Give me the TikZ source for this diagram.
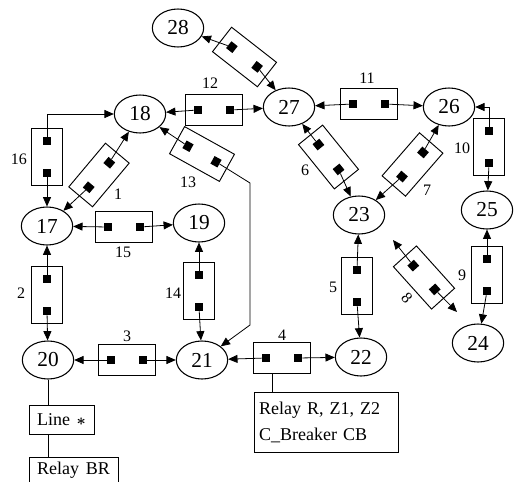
\documentclass[tikz,border=0pt]{standalone}
\usepackage{fontspec}
\setmainfont{Liberation Serif}
\usetikzlibrary{arrows.meta,shapes.geometric,calc}

\tikzset{
  bus/.style={draw,ellipse,line width=0.8pt,minimum width=38.5pt,
    minimum height=28.5pt,inner sep=0pt,font=\fontsize{16}{18}\selectfont},
  swbox/.style={draw,line width=0.7pt,minimum width=42.75pt,
    minimum height=23.25pt,inner sep=0pt},
  swsq/.style={fill=black,minimum width=6pt,minimum height=6.5pt,inner sep=0pt},
  swlbl/.style={font=\fontsize{12}{14}\selectfont,inner sep=1pt},
  infobox/.style={draw,line width=0.7pt,
    font={\fontsize{13.5}{19.5}\selectfont\spaceskip=5pt plus 1pt\relax}},
  link/.style={-{Triangle[length=7pt,width=6pt]},line width=0.6pt},
  wire/.style={line width=0.6pt},
}

% switch unit: box with two breakers (name, x, y, angle)
\newcommand{\swunit}[4]{%
  \begin{scope}[shift={(#2,#3)},rotate=#4,transform shape]
    \node[swbox] (#1) at (0,0) {};
    \node[swsq] (#1a) at (-16,0) {};
    \node[swsq] (#1b) at (16,0) {};
  \end{scope}}

\begin{document}
\begin{tikzpicture}[x=0.75pt,y=-0.75pt]
  \useasboundingbox (0,0) rectangle (518,482);
  \clip (0,0) rectangle (518,482);

  % buses
  \node[bus] (n28) at (178,28) {28};
  \node[bus] (n18) at (140,114) {18};
  \node[bus] (n27) at (289,107) {27};
  \node[bus] (n26) at (449,107) {26};
  \node[bus] (n17) at (47,226) {17};
  \node[bus] (n19) at (199,223) {19};
  \node[bus] (n23) at (359,215) {23};
  \node[bus] (n25) at (487,210) {25};
  \node[bus] (n24) at (478,343) {24};
  \node[bus] (n22) at (361,357) {22};
  \node[bus] (n21) at (202,360) {21};
  \node[bus] (n20) at (48,360) {20};

  % switch units
  \swunit{b12}{214}{110}{0}
  \swunit{b11}{369}{104}{0}
  \swunit{b15}{124}{227}{0}
  \swunit{b3}{127}{360}{0}
  \swunit{b4}{282}{358}{0}
  \swunit{b16}{47}{157}{-90}
  \swunit{b2}{47}{295}{-90}
  \swunit{b14}{199}{291}{-90}
  \swunit{b5}{357}{286}{-90}
  \swunit{b9}{487}{275}{-90}
  \swunit{b10}{489}{147}{-90}
  \swunit{b1}{99}{175}{50}
  \swunit{b13}{202}{154}{-29}
  \swunit{b28}{244.5}{57}{-38}
  \swunit{b6}{328.5}{157}{-51}
  \swunit{b7}{412.5}{164.5}{49}
  \swunit{b8}{424}{277.5}{-48}

  % labels
  \node[swlbl] (l12) at (210,83) {12};
  \node[swlbl] (l11) at (367,78) {11};
  \node[swlbl] (l15) at (123,252) {15};
  \node[swlbl] (l3) at (127,336) {3};
  \node[swlbl] (l4) at (282,335) {4};
  \node[swlbl] (l16) at (19,159) {16};
  \node[swlbl] (l2) at (21,293) {2};
  \node[swlbl] (l14) at (173,293) {14};
  \node[swlbl] (l5) at (333,287) {5};
  \node[swlbl] (l9) at (462,275) {9};
  \node[swlbl] (l10) at (462,148) {10};
  \node[swlbl] (l1) at (118,194) {1};
  \node[swlbl] (l13) at (188,182) {13};
  \node[swlbl] (l6) at (305,170) {6};
  \node[swlbl] (l7) at (427,190) {7};
  \node[swlbl,rotate=-48] (l8) at (407,298) {8};

  % bend points and free ends
  \coordinate (k13a) at (250,183);
  \coordinate (k13b) at (250,325);
  \coordinate (e8a) at (393,240);
  \coordinate (e8b) at (457,312);

  % connections
  \draw[link] (b12a) -- (n18);
  \draw[link] (b12b) -- (n27);
  \draw[link] (b11a) -- (n27);
  \draw[link] (b11b) -- (n26);
  \draw[link] (b15a) -- (n17);
  \draw[link] (b15b) -- (n19);
  \draw[link] (b3a) -- (n20);
  \draw[link] (b3b) -- (n21);
  \draw[link] (b4a) -- (n21);
  \draw[link] (b4b) -- (n22);
  \draw[link] (b16a) |- (n18);
  \draw[link] (b16b) -- (n17);
  \draw[link] (b2a) -- (n17);
  \draw[link] (b2b) -- (n20);
  \draw[link] (b14a) -- (n19);
  \draw[link] (b14b) -- (n21);
  \draw[link] (b5a) -- (n23);
  \draw[link] (b5b) -- (n22);
  \draw[link] (b9a) -- (n25);
  \draw[link] (b9b) -- (n24);
  \draw[link] (b10a) |- (n26);
  \draw[link] (b10b) -- (n25);
  \draw[link] (b1a) -- (n17);
  \draw[link] (b1b) -- (n18);
  \draw[link] (b13a) -- (n18);
  \draw[link] (b13b) -- (k13a) -- (k13b) -- (n21);
  \draw[link] (b28a) -- (n28);
  \draw[link] (b28b) -- (n27);
  \draw[link] (b6a) -- (n27);
  \draw[link] (b6b) -- (n23);
  \draw[link] (b7a) -- (n23);
  \draw[link] (b7b) -- (n26);
  \draw[link] (b8a) -- (e8a);
  \draw[link] (b8b) -- (e8b);

  % attached devices
  \node[infobox,minimum width=48.75pt,minimum height=21.75pt] (line) at (61.5,419.5)
    {Line {\large\boldmath$\ast$}};
  \node[infobox,minimum width=66.75pt,minimum height=19.5pt] (relbr) at (73.5,470) {Relay BR};
  \node[infobox,anchor=north west,text width=101pt,inner xsep=3.5pt,
        minimum height=45pt,align=left] (relay) at (254,392)
    {Relay R, Z1, Z2\\C\_Breaker CB};
  \draw[wire] (n20) -- (n20 |- line.north);
  \draw[wire] (n20 |- line.south) -- (n20 |- relbr.north);
  \draw[wire] ([xshift=-7.5pt]b4.south) -- ([xshift=-7.5pt]b4.south |- relay.north);
\end{tikzpicture}
\end{document}
